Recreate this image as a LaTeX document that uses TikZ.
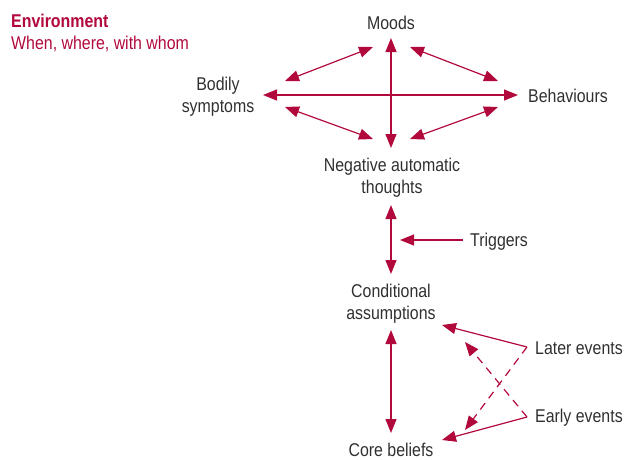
\documentclass[tikz,border=0pt]{standalone}
\usepackage{fontspec}
\setmainfont[FakeStretch=0.86]{Liberation Sans}
\usetikzlibrary{arrows.meta}
\definecolor{crim}{HTML}{B2093C}
\definecolor{txt}{HTML}{303030}
\begin{document}
\begin{tikzpicture}[x=1pt,y=-1pt,
  lbl/.style={text=txt,font=\fontsize{18.5}{22}\selectfont,align=center,inner sep=0pt},
  arr/.style={draw=crim,line width=1.2pt,-{Triangle[length=14pt,width=11pt]}},
  darr/.style={draw=crim,line width=1.2pt,{Triangle[length=14pt,width=11pt]}-{Triangle[length=14pt,width=11pt]}},
  dsh/.style={arr,dash pattern=on 8pt off 6pt}]
\useasboundingbox (0,0) rectangle (625,459);
% texts
\node[anchor=base west,text=crim,font=\fontsize{18.5}{22}\selectfont\bfseries,inner sep=0pt] (env) at (11,27) {Environment};
\node[anchor=base west,text=crim,font=\fontsize{18.5}{22}\selectfont,inner sep=0pt] (when) at (11,49) {When, where, with whom};
\node[lbl] (moods) at (391,22.5) {Moods};
\node[lbl] (body) at (218,97) {Bodily\\symptoms};
\node[lbl,anchor=west] (beh) at (528,95.5) {Behaviours};
\node[lbl] (nat) at (392,178) {Negative automatic\\thoughts};
\node[lbl,anchor=west] (trig) at (470,242) {Triggers};
\node[lbl] (cond) at (391,304) {Conditional\\assumptions};
\node[lbl,anchor=west] (later) at (535,348) {Later events};
\node[lbl,anchor=west] (early) at (535,418) {Early events};
\node[lbl,anchor=base] (core) at (391,456) {Core beliefs};
% endpoints
\coordinate (mT) at (391,38);
\coordinate (mB) at (391,148);
\coordinate (hL) at (263,95);
\coordinate (hR) at (518,95);
\coordinate (ml1) at (285,81);
\coordinate (ml2) at (373,47);
\coordinate (mr1) at (410,47);
\coordinate (mr2) at (498,81);
\coordinate (bn1) at (285,107);
\coordinate (bn2) at (373,139);
\coordinate (rn1) at (410,139);
\coordinate (rn2) at (498,107);
\coordinate (nc1) at (391,205);
\coordinate (nc2) at (391,274);
\coordinate (tg1) at (463,240);
\coordinate (tg2) at (400,240);
\coordinate (cc1) at (391,330);
\coordinate (cc2) at (391,433);
\coordinate (le) at (527,347);
\coordinate (ee) at (527,417);
\coordinate (leT) at (442,325);
\coordinate (eeT) at (442,440);
\coordinate (ldT) at (465,430);
\coordinate (edT) at (465,342);
% arrows
\draw[darr] (mT) -- (mB);
\draw[darr] (hL) -- (hR);
\draw[darr] (ml1) -- (ml2);
\draw[darr] (mr1) -- (mr2);
\draw[darr] (bn1) -- (bn2);
\draw[darr] (rn1) -- (rn2);
\draw[darr] (nc1) -- (nc2);
\draw[arr] (tg1) -- (tg2);
\draw[darr] (cc1) -- (cc2);
\draw[arr] (le) -- (leT);
\draw[arr] (ee) -- (eeT);
\draw[dsh] (le) -- (ldT);
\draw[dsh] (ee) -- (edT);
\end{tikzpicture}
\end{document}
